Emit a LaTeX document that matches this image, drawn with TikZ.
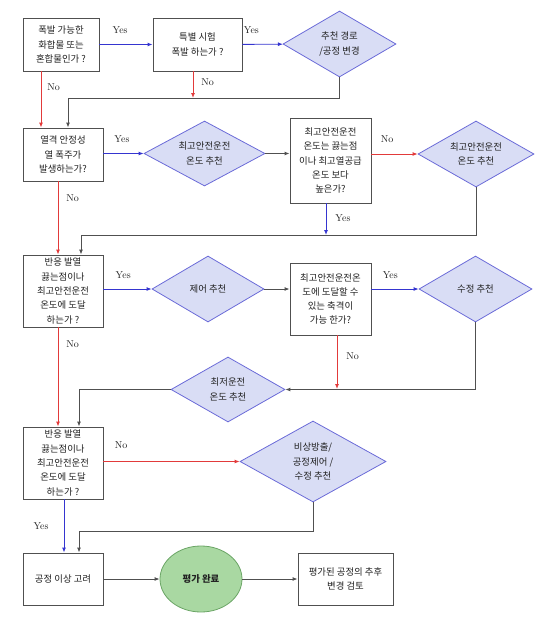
\documentclass[tikz,border=0pt]{standalone}
\usepackage{fontspec}
\newfontfamily\krfont{Noto Sans CJK KR}
\usepackage{tikz}
\usetikzlibrary{arrows.meta,shapes.geometric}
\definecolor{FlowInk}{HTML}{222222}
\definecolor{FlowLine}{HTML}{505050}
\definecolor{FlowYes}{HTML}{3535D0}
\definecolor{FlowNo}{HTML}{E23A3A}
\definecolor{DiaFill}{HTML}{D9DDF5}
\definecolor{DiaLine}{HTML}{6A6AD8}
\definecolor{EndFill}{HTML}{A9D8A2}
\definecolor{EndLine}{HTML}{6BA566}
\tikzset{
  krtext/.style={font=\krfont\fontsize{9.4}{14.3}\selectfont, text=FlowInk},
  yesno/.style={font=\fontsize{10}{11}\selectfont, text=FlowInk, inner sep=2pt},
  askbox/.style={krtext, draw=FlowLine, line width=0.9pt, fill=white, align=center, inner sep=1pt},
  advbox/.style={krtext, diamond, aspect=1.7, draw=DiaLine, fill=DiaFill, line width=0.8pt, align=center, inner sep=0pt},
  endbox/.style={krtext, ellipse, draw=EndLine, fill=EndFill, line width=0.8pt, inner sep=0pt},
  flowarrow/.style={-{Latex[length=5pt,width=4pt]}, line width=0.9pt, draw=FlowLine},
  yesarrow/.style={flowarrow, draw=FlowYes, -{Latex[length=5pt,width=4pt,color=FlowYes]}},
  noarrow/.style={flowarrow, draw=FlowNo, -{Latex[length=5pt,width=4pt,color=FlowNo]}}
}
\begin{document}
\begin{tikzpicture}[x=1pt, y=-1pt]
\useasboundingbox (0,0) rectangle (543,629);
\node[askbox, minimum width=76pt, minimum height=53pt] (b1) at (61,44.5) {폭발 가능한\\화합물 또는\\혼합물인가 ?};
\node[askbox, minimum width=89pt, minimum height=53pt] (b2) at (197.5,44.5) {특별 시험\\폭발 하는가 ?};
\node[advbox, minimum width=113pt, minimum height=66pt] (d1) at (339.5,44) {추천 경로\\/공정 변경};
\node[askbox, minimum width=80pt, minimum height=53pt] (b3) at (63,154.5) {열격 안정성\\열 폭주가\\발생하는가?};
\node[advbox, minimum width=121pt, minimum height=65pt] (d2) at (204.5,153.5) {최고안전운전\\온도 추천};
\node[askbox, minimum width=81pt, minimum height=85pt] (b4) at (330.5,160.5) {최고안전운전\\온도는 끓는점\\이나 최고열공급\\온도 보다\\높은가?};
\node[advbox, minimum width=116pt, minimum height=66pt] (d3) at (476,154) {최고안전운전\\온도 추천};
\node[askbox, minimum width=80pt, minimum height=72pt] (b5) at (63,291) {반응 발열\\끓는점이나\\최고안전운전\\온도에 도달\\하는가 ?};
\node[advbox, minimum width=112pt, minimum height=66pt] (d4) at (208,289) {제어 추천};
\node[askbox, minimum width=81pt, minimum height=72pt] (b6) at (330.5,299) {최고안전운전온\\도에 도달할 수\\있는 축격이\\가능 한가?};
\node[advbox, minimum width=113pt, minimum height=66pt] (d5) at (475.5,289) {수정 추천};
\node[advbox, minimum width=114pt, minimum height=65pt] (d6) at (228,389.5) {최저운전\\온도 추천};
\node[askbox, minimum width=80pt, minimum height=72pt] (b7) at (63,463) {반응 발열\\끓는점이나\\최고안전운전\\온도에 도달\\하는가 ?};
\node[advbox, minimum width=146pt, minimum height=81pt] (d7) at (313,461.5) {비상방출/\\공정제어 /\\수정 추천};
\node[askbox, minimum width=80pt, minimum height=52pt] (b8) at (63,579) {공정 이상 고려};
\node[endbox, minimum width=82pt, minimum height=66pt, font=\krfont\bfseries\fontsize{9.4}{14.3}\selectfont] (e1) at (201,579) {평가 완료};
\node[askbox, minimum width=95pt, minimum height=52pt] (b9) at (345.5,579) {평가된 공정의 추후\\변경 검토};
\coordinate (n1) at (41,0);
\coordinate (n3) at (58,0);
\coordinate (n7) at (64,0);
\coordinate (j1) at (68,98);
\coordinate (n2) at (193,98);
\coordinate (j2) at (81,235);
\coordinate (n4) at (326,235);
\coordinate (n6) at (337,389);
\coordinate (j3) at (79,389);
\coordinate (j4) at (79,531);
\draw[yesarrow] (b1) -- node[yesno, above=8pt, pos=.39] (lYes1) {Yes} (b2);
\draw[yesarrow] (b2) -- node[yesno, above=8pt, pos=.22] (lYes2) {Yes} (d1);
\draw[noarrow] (b1.south -| n1) -- node[yesno, right=4pt, pos=.28] (lNo1) {No} (b3.north -| n1);
\draw[noarrow] (b2.south -| n2) -- node[yesno, right=6pt, pos=.4] (lNo2) {No} (n2);
\draw[flowarrow] (d1.south) |- (j1) -- (b3.north -| j1);
\draw[yesarrow] (d2.west -| b3.east) -- node[yesno, above=8pt, pos=.46] (lYes3) {Yes} (d2.west);
\draw[flowarrow] (d2.east) -- (d2.east -| b4.west);
\draw[noarrow] (d3.west -| b4.east) -- node[yesno, above=9pt, pos=.34] (lNo4) {No} (d3.west);
\draw[yesarrow] (b4.south -| n4) -- node[yesno, right=7pt, pos=.47] (lYes4) {Yes} (n4);
\draw[noarrow] (b3.south -| n3) -- node[yesno, right=6pt, pos=.23] (lNo3) {No} (b5.north -| n3);
\draw[flowarrow] (d3.south) |- (j2) -- (b5.north -| j2);
\draw[yesarrow] (d4.west -| b5.east) -- node[yesno, above=8pt, pos=.41] (lYes5) {Yes} (d4.west);
\draw[flowarrow] (d4.east) -- (d4.east -| b6.west);
\draw[yesarrow] (d5.west -| b6.east) -- node[yesno, above=8pt, pos=.4] (lYes6) {Yes} (d5.west);
\draw[noarrow] (b6.south -| n6) -- node[yesno, right=7pt, pos=.39] (lNo6) {No} (n6);
\draw[flowarrow] (d5.south) |- (d6.east);
\draw[noarrow] (b5.south -| n3) -- node[yesno, right=6pt, pos=.17] (lNo5) {No} (b7.north -| n3);
\draw[flowarrow] (d6.west) -| (b7.north -| j3);
\draw[noarrow] (d7.west -| b7.east) -- node[yesno, above=10pt, pos=.13] (lNo7) {No} (d7.west);
\draw[flowarrow] (d7.south) |- (j4) -- (b8.north -| j4);
\draw[yesarrow] (b7.south -| n7) -- node[yesno, left=13pt, pos=.5] (lYes7) {Yes} (b8.north -| n7);
\draw[flowarrow] (b8) -- (e1);
\draw[flowarrow] (e1) -- (b9);
\end{tikzpicture}
\end{document}
